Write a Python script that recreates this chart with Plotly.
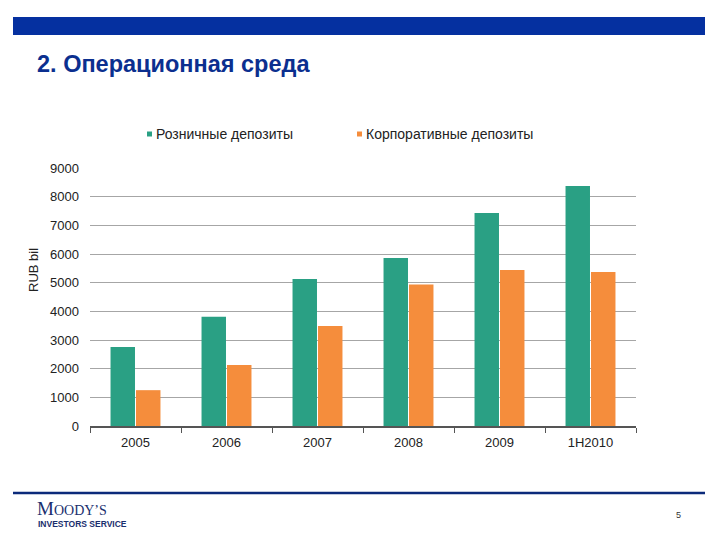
import plotly.graph_objects as go

categories = ["2005", "2006", "2007", "2008", "2009", "1H2010"]
retail = [2760, 3810, 5130, 5860, 7430, 8370]
corporate = [1250, 2130, 3490, 4940, 5440, 5370]
y_ticks = [0, 1000, 2000, 3000, 4000, 5000, 6000, 7000, 8000, 9000]
series_names = ["Розничные депозиты", "Корпоративные депозиты"]

W, H = 720, 540
OFF = 8  # page body margin
def px(x):
    return (x - OFF) / W
def py(y):
    return 1 - (y - OFF) / H

FONT = "Liberation Sans, Arial, sans-serif"
GREEN = "#2aa084"
ORANGE = "#f58d3c"
NAVY = "#0b2f8f"
colors = [GREEN, ORANGE]

fig = go.Figure()
for name, vals, col in zip(series_names, [retail, corporate], colors):
    fig.add_trace(go.Bar(name=name, x=categories, y=vals, showlegend=False,
                         marker=dict(color=col, line=dict(width=0))))

fig.update_layout(
    width=W, height=H,
    margin=dict(l=0, r=0, t=0, b=0, autoexpand=False),
    paper_bgcolor="white", plot_bgcolor="white",
    barmode="group", bargap=0.44, bargroupgap=0.04,
    font=dict(family=FONT, size=13, color="#222"),
    showlegend=False,
    xaxis=dict(domain=[px(90), px(636)], type="category", automargin=False,
               showline=True, linecolor="#555", linewidth=1.5,
               ticks="outside", tickson="boundaries", ticklen=5, tickcolor="#555",
               ticklabelstandoff=4,
               showgrid=False, tickfont=dict(family=FONT, size=13, color="#222")),
    yaxis=dict(domain=[py(426), py(168)], range=[0, 9000], tickvals=y_ticks, automargin=False,
               showgrid=True, gridcolor="#a6a6a6", gridwidth=1,
               zeroline=False, showline=False, ticks="", ticklabelstandoff=10,
               tickfont=dict(family=FONT, size=13, color="#222")),
)

# legend (drawn manually: small square + label)
legend_x = [147, 357]
for name, col, lx in zip(series_names, colors, legend_x):
    fig.add_shape(type="rect", xref="paper", yref="paper",
                  x0=px(lx), x1=px(lx + 5), y0=py(136.5), y1=py(131.5),
                  fillcolor=col, line=dict(width=0))
    fig.add_annotation(text=name, xref="paper", yref="paper",
                       x=px(lx + 7), y=py(134), xanchor="left", yanchor="middle", showarrow=False,
                       font=dict(family=FONT, size=14, color="#222"))

# y-axis title
fig.add_annotation(text="RUB bil", xref="paper", yref="paper", textangle=-90,
                   x=px(33), y=py(270), xanchor="center", yanchor="middle", showarrow=False,
                   font=dict(family=FONT, size=13, color="#222"))

# top banner
fig.add_shape(type="rect", xref="paper", yref="paper",
              x0=px(13), x1=px(705), y0=py(35), y1=py(17),
              fillcolor="#0530a0", line=dict(width=0), layer="above")
# footer line
fig.add_shape(type="line", xref="paper", yref="paper",
              x0=px(13), x1=px(705), y0=py(493), y1=py(493),
              line=dict(color="#0b2a7a", width=2.5))

fig.add_annotation(text="<b>2. Операционная среда</b>", xref="paper", yref="paper",
                   x=px(35), y=py(64), xanchor="left", yanchor="middle", showarrow=False,
                   font=dict(family=FONT, size=23.5, color=NAVY))

fig.add_annotation(text="M<span style='font-size:14px'>OODY’S</span>", xref="paper", yref="paper",
                   x=px(35), y=py(508), xanchor="left", yanchor="middle", showarrow=False,
                   font=dict(family="Liberation Serif, Times New Roman, serif", size=19, color="#1a2f6e"))
fig.add_annotation(text="<b>INVESTORS SERVICE</b>", xref="paper", yref="paper",
                   x=px(36), y=py(524), xanchor="left", yanchor="middle", showarrow=False,
                   font=dict(family=FONT, size=8.5, color="#1a2f6e"))
fig.add_annotation(text="5", xref="paper", yref="paper",
                   x=px(678), y=py(515), xanchor="center", yanchor="middle", showarrow=False,
                   font=dict(family=FONT, size=9, color="#333"))

fig.write_html("out.html")
